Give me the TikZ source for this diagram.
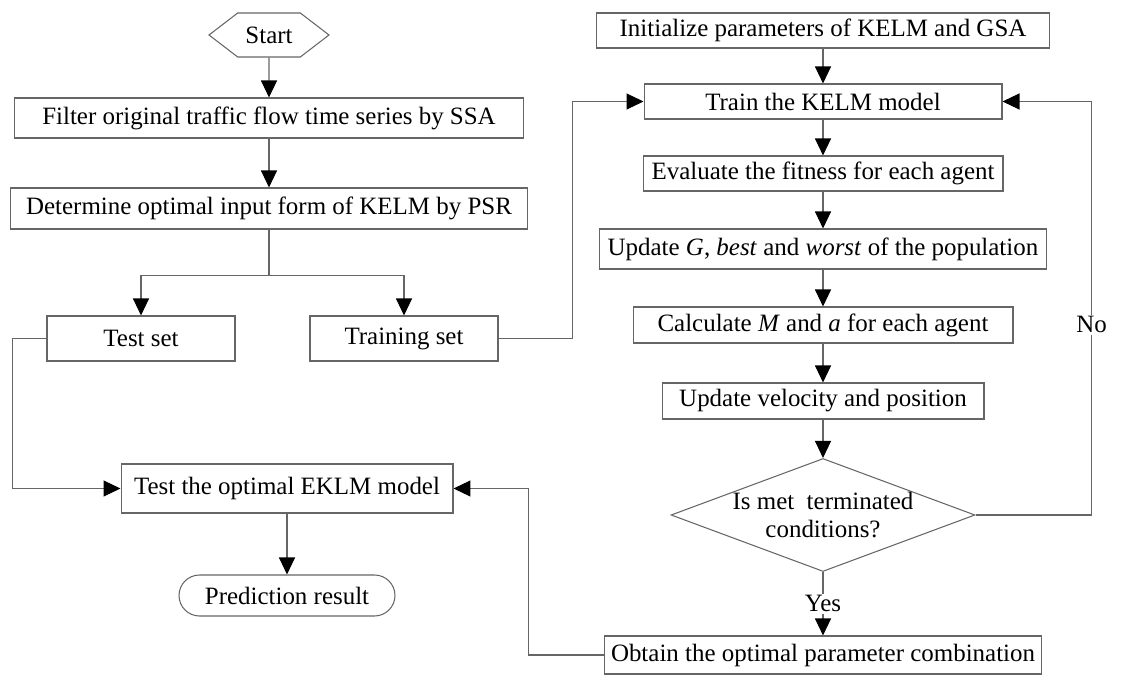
\documentclass[tikz,border=0pt]{standalone}
\usepackage{fontspec}
\setmainfont{Liberation Serif}
\usetikzlibrary{arrows.meta,shapes.geometric,shapes.symbols,positioning}

\begin{document}
\begin{tikzpicture}[
  x=0.02cm, y=-0.02cm,
  >={Triangle[length=0.34cm,width=0.32cm,color=black]},
  every node/.style={font=\fontsize{14.2}{16}\selectfont},
  box/.style={rectangle, draw=black!60, line width=0.6pt, inner sep=0pt},
  hexa/.style={signal, signal to=west and east, signal pointer angle=75, draw=black!60, line width=0.6pt, inner sep=0pt},
  flow/.style={->, draw=black!60, line width=0.6pt},
  link/.style={draw=black!60, line width=0.6pt},
]
  \useasboundingbox (0,0) rectangle (1132,675);
  \def\lcol{269}
  \def\rcol{823}
  % Left column: data preparation and testing
  \node[hexa, minimum width=2.4cm, minimum height=0.88cm] (start) at (\lcol,35) {Start};
  \node[box, minimum width=10.2cm, minimum height=0.8cm]   (filter) at (\lcol,118) {Filter original traffic flow time series by SSA};
  \node[box, minimum width=10.36cm, minimum height=0.82cm] (determine) at (\lcol,208.5) {Determine optimal input form of KELM by PSR};
  \node[box, minimum width=3.76cm, minimum height=0.9cm]   (testset) at (141,338.5) {Test set};
  \node[box, minimum width=3.76cm, minimum height=0.9cm]   (trainset) at (404,338.5) {Training set};
  \node[box, minimum width=6.64cm, minimum height=0.98cm]  (testmodel) at (287,488.5) {Test the optimal EKLM model};
  \node[box, rounded corners=0.41cm, minimum width=4.32cm, minimum height=0.82cm] (predict) at (287,595.5) {Prediction result};
  % Right column: GSA optimisation of KELM
  \node[box, minimum width=9.08cm, minimum height=0.7cm]   (init) at (\rcol,30.5) {Initialize parameters of KELM and GSA};
  \node[box, minimum width=7.16cm, minimum height=0.7cm]   (train) at (\rcol,101.5) {Train the KELM model};
  \node[box, minimum width=7.2cm, minimum height=0.7cm]    (evaluate) at (\rcol,173.5) {Evaluate the fitness for each agent};
  \node[box, minimum width=8.94cm, minimum height=0.8cm]   (update) at (\rcol,249) {Update \textit{G}, \textit{best} and \textit{worst} of the population};
  \node[box, minimum width=7.6cm, minimum height=0.72cm]   (calc) at (\rcol,325) {Calculate \textit{M} and \textit{a} for each agent};
  \node[box, minimum width=6.44cm, minimum height=0.72cm]  (velocity) at (\rcol,401) {Update velocity and position};
  \node[diamond, aspect=2.69, draw=black!60, line width=0.6pt, inner sep=0pt, align=center,
        minimum width=6.02cm, minimum height=2.24cm]       (cond) at (\rcol,515) {Is met~ terminated\\conditions?};
  \node[box, minimum width=8.76cm, minimum height=0.76cm]  (obtain) at (\rcol,655) {Obtain the optimal parameter combination};
  % Connections, left column
  \draw[flow] (start) -- (filter);
  \draw[flow] (filter) -- (determine);
  \draw[link] (determine.south) -- ++(0,46) coordinate (split);
  \draw[flow] (split) -| (testset);
  \draw[flow] (split) -| (trainset);
  \draw[flow] (testset.west) -- ++(-34,0) |- (testmodel.west);
  \draw[flow] (trainset.east) -- ++(74,0) |- (train.west);
  \draw[flow] (testmodel) -- (predict);
  % Connections, right column
  \draw[flow] (init) -- (train);
  \draw[flow] (train) -- (evaluate);
  \draw[flow] (evaluate) -- (update);
  \draw[flow] (update) -- (calc);
  \draw[flow] (calc) -- (velocity);
  \draw[flow] (velocity) -- (cond);
  \draw[flow] (cond) -- node[fill=white, inner sep=1pt] (yes) {Yes} (obtain);
  \draw[flow] (cond.east) -- ++(116,0) |- node[pos=0.23, fill=white, inner sep=1pt] (no) {No} (train.east);
  \draw[flow] (obtain.west) -- ++(-75,0) |- (testmodel.east);
\end{tikzpicture}
\end{document}
